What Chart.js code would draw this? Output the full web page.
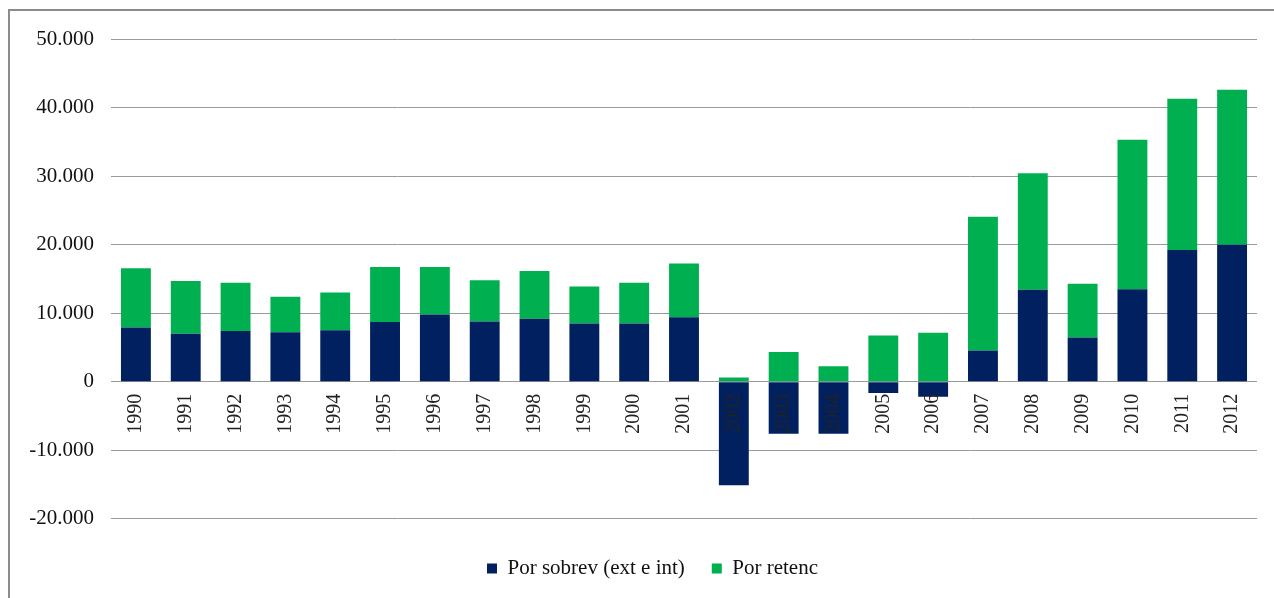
<!DOCTYPE html>
<html>
<head>
<meta charset="utf-8">
<script src="https://cdn.jsdelivr.net/npm/chart.js@4/dist/chart.umd.min.js"></script>
<style>
    html, body { margin: 0; padding: 0; background: #fff; }
    #wrap { position: relative; width: 1274px; height: 598px; overflow: hidden; }
    #frame { position: absolute; left: 8px; top: 9px; width: 1300px; height: 620px;
             border-left: 2px solid #8c8c8c; border-top: 2px solid #8c8c8c; }
    canvas { position: absolute; left: 0; top: 0; }
</style>
</head>
<body>
<div id="wrap">
    <div id="frame"></div>
    <canvas id="chart" width="1274" height="598"></canvas>
</div>
<script>
// === Data ===
const years = ['1990', '1991', '1992', '1993', '1994', '1995', '1996', '1997', '1998', '1999', '2000', '2001',
               '2002', '2003', '2004', '2005', '2006', '2007', '2008', '2009', '2010', '2011', '2012'];
const porSobrev = [7900, 7000, 7400, 7200, 7500, 8700, 9800, 8800, 9200, 8500, 8500, 9400,
                   -15100, -7600, -7600, -1650, -2200, 4550, 13400, 6450, 13500, 19200, 20000];
const porRetenc = [8650, 7700, 7050, 5200, 5500, 8050, 6950, 6000, 6950, 5400, 5950, 7850,
                   600, 4350, 2250, 6750, 7150, 19500, 17000, 7850, 21800, 22100, 22600];
const seriesNames = ['Por sobrev (ext e int)', 'Por retenc'];
const yTicks = [-20000, -10000, 0, 10000, 20000, 30000, 40000, 50000];

const serif = "'Liberation Serif', 'Times New Roman', serif";

function fmt(v) {
    // 50000 -> "50.000"
    const s = Math.abs(v).toString().replace(/\B(?=(\d{3})+(?!\d))/g, '.');
    return (v < 0 ? '-' : '') + s;
}

// legend is centred under the plot area in the original, not under the whole canvas
const legendShift = {
    id: 'legendShift',
    afterLayout(chart) {
        if (chart.legend) chart.legend.left += 48;
    }
};

// === Chart Setup ===
const ctx = document.getElementById('chart').getContext('2d');

new Chart(ctx, {
    type: 'bar',
    data: {
        labels: years,
        datasets: [{
            label: seriesNames[0],
            data: porSobrev,
            backgroundColor: '#002060',
            borderColor: '#002060',
            borderWidth: 0
        }, {
            label: seriesNames[1],
            data: porRetenc,
            backgroundColor: '#00B050',
            borderColor: '#00B050',
            borderWidth: 0
        }]
    },
    plugins: [legendShift],
    options: {
        responsive: false,
        animation: false,
        datasets: { bar: { barPercentage: 0.6, categoryPercentage: 1.0 } },
        layout: { padding: { top: 39, right: 17, bottom: 9, left: 0 } },
        plugins: {
            legend: {
                position: 'bottom',
                // empty title used only as spacing above the legend items
                title: { display: true, text: ' ', font: { size: 1 }, padding: { top: 11, bottom: 0 } },
                labels: {
                    boxWidth: 10,
                    boxHeight: 10,
                    padding: 27,
                    color: '#111',
                    font: { family: serif, size: 21 }
                }
            },
            title: { display: false },
            tooltip: { enabled: false }
        },
        scales: {
            x: {
                stacked: true,
                position: { y: 0 },
                grid: { display: false },
                border: { display: false },
                ticks: {
                    z: 1,
                    minRotation: 90,
                    maxRotation: 90,
                    padding: 4,
                    color: '#222',
                    font: { family: serif, size: 20 }
                }
            },
            y: {
                stacked: true,
                min: yTicks[0],
                max: yTicks[yTicks.length - 1],
                afterFit: (scale) => { scale.width = 111; },
                afterBuildTicks: (scale) => { scale.ticks = yTicks.map(v => ({ value: v })); },
                grid: { color: '#9a9a9a', lineWidth: 1, drawTicks: false },
                border: { display: false },
                ticks: {
                    padding: 17,
                    color: '#111',
                    font: { family: serif, size: 21 },
                    callback: (v) => fmt(v)
                }
            }
        }
    }
});
</script>
</body>
</html>
